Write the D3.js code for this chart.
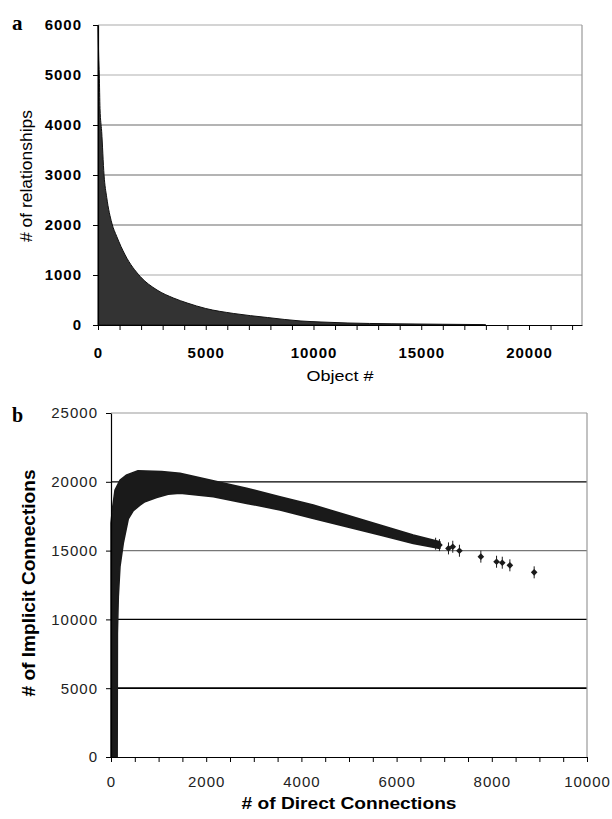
<!DOCTYPE html>
<html>
<head>
<meta charset="utf-8">
<script src="https://cdn.jsdelivr.net/npm/d3@7"></script>
<style>
    body { margin: 0; background: #fff; }
    svg { display: block; }
    .tickA text { font-family: "Liberation Sans", Arial, sans-serif; font-weight: bold; font-size: 15px; fill: #000; letter-spacing: 1px; }
    .tickB text { font-family: "Liberation Sans", Arial, sans-serif; font-size: 15px; fill: #222; letter-spacing: 1px; }
    .tickA line, .tickB line, .tickA path, .tickB path { stroke: #000; }
</style>
</head>
<body>
<div id="chart"></div>
<script>
// DATA - panel a (object # vs number of relationships, sorted)
const objectNo = [0, 30, 60, 93, 170, 280, 405, 640, 870, 1260, 1960, 2740, 3500, 4140, 5000, 6300, 7860, 9420, 10350, 11600, 13600, 16000, 17900, 18000];
const relCount = [6000, 5400, 5000, 4330, 3870, 3000, 2550, 2040, 1770, 1400, 970, 700, 540, 440, 330, 230, 150, 80, 60, 40, 25, 15, 8, 0];
const ticksA_y = [0, 1000, 2000, 3000, 4000, 5000, 6000];
const ticksA_x = d3.range(0, 22001, 1000);

// DATA - panel b (cloud envelope + isolated points)
const upperX = [0, 0, 35, 84, 190, 330, 567, 1065, 1450, 2150, 2850, 3550, 4250, 4950, 5650, 6350, 6910];
const upperY = [0, 17000, 18170, 19400, 20130, 20500, 20800, 20750, 20620, 20080, 19530, 18920, 18310, 17590, 16860, 16130, 15650];
const lowerX = [130, 135, 154, 189, 259, 364, 469, 609, 714, 959, 1200, 1450, 2150, 2850, 3550, 4250, 4950, 5650, 6350, 6910];
const lowerY = [0, 9000, 11650, 13830, 15550, 17300, 17900, 18300, 18550, 18850, 19100, 19160, 18920, 18430, 17950, 17340, 16740, 16130, 15520, 15160];
const pointX = [6820, 6900, 7090, 7180, 7320, 7770, 8100, 8220, 8380, 8890];
const pointY = [15500, 15400, 15160, 15280, 14990, 14560, 14190, 14120, 13930, 13420];
const ticksB_y = [0, 5000, 10000, 15000, 20000, 25000];
const ticksB_x = d3.range(0, 10001, 500);

const svg = d3.select("#chart")
    .append("svg")
    .attr("width", 612)
    .attr("height", 819);

// PANEL A
const xA = d3.scaleLinear().domain([0, 22460]).range([98, 582]);
const yA = d3.scaleLinear().domain([0, 6000]).range([325, 25]);
const gridColA = ["#000", "#aaa", "#6a6a6a", "#6a6a6a", "#6a6a6a", "#b0b0b0", "#aaa"];

svg.append("g")
    .selectAll("line")
    .data(ticksA_y.slice(1))
    .enter()
    .append("line")
    .attr("x1", xA(0)).attr("x2", xA.range()[1])
    .attr("y1", d => yA(d)).attr("y2", d => yA(d))
    .attr("stroke", (d, i) => gridColA[i + 1])
    .attr("stroke-width", 1.2);

svg.append("line")
    .attr("x1", xA.range()[1]).attr("x2", xA.range()[1])
    .attr("y1", yA(6000)).attr("y2", yA(0))
    .attr("stroke", "#999").attr("stroke-width", 1.2);

const areaA = d3.area()
    .x((d, i) => xA(objectNo[i]))
    .y0(yA(0))
    .y1(d => yA(d))
    .curve(d3.curveMonotoneX);

svg.append("path")
    .datum(relCount)
    .attr("d", areaA)
    .attr("fill", "#333")
    .attr("stroke", "#111")
    .attr("stroke-width", 1);

svg.append("g")
    .attr("class", "tickA")
    .attr("transform", `translate(0, ${yA(0)})`)
    .call(d3.axisBottom(xA).tickValues(ticksA_x).tickSize(5).tickSizeOuter(0).tickPadding(17)
        .tickFormat(d => d % 5000 === 0 ? d : ""))
    .call(g => g.select(".domain").attr("stroke-width", 1.2));

svg.append("g")
    .attr("class", "tickA")
    .attr("transform", `translate(${xA(0)}, 0)`)
    .call(d3.axisLeft(yA).tickValues(ticksA_y).tickSize(5).tickSizeOuter(0).tickPadding(11)
        .tickFormat(d3.format("d")))
    .call(g => g.select(".domain").attr("stroke-width", 1.2));

svg.append("text")
    .attr("x", 12).attr("y", 30)
    .style("font-family", "'Liberation Serif', 'Times New Roman', serif")
    .style("font-weight", "bold").style("font-size", "21px")
    .text("a");

svg.append("text")
    .attr("transform", "translate(32, 176) rotate(-90)")
    .attr("text-anchor", "middle")
    .attr("textLength", 132).attr("lengthAdjust", "spacingAndGlyphs")
    .style("font-family", "'Liberation Sans', Arial, sans-serif").style("font-size", "16px")
    .text("# of relationships");

svg.append("text")
    .attr("x", 340).attr("y", 381)
    .attr("text-anchor", "middle")
    .attr("textLength", 67).attr("lengthAdjust", "spacingAndGlyphs")
    .style("font-family", "'Liberation Sans', Arial, sans-serif").style("font-size", "15px")
    .text("Object #");

// PANEL B
const xB = d3.scaleLinear().domain([0, 10000]).range([111, 587]);
const yB = d3.scaleLinear().domain([0, 25000]).range([757, 413]);
const gridColB = { 5000: "#000", 10000: "#000", 15000: "#777", 20000: "#000", 25000: "#999" };

svg.append("g")
    .selectAll("line")
    .data(ticksB_y.slice(1))
    .enter()
    .append("line")
    .attr("x1", xB(0)).attr("x2", xB(10000))
    .attr("y1", d => yB(d)).attr("y2", d => yB(d))
    .attr("stroke", d => gridColB[d])
    .attr("stroke-width", d => d === 5000 ? 1.8 : 1.2);

svg.append("line")
    .attr("x1", xB(10000)).attr("x2", xB(10000))
    .attr("y1", yB(25000)).attr("y2", yB(0))
    .attr("stroke", "#999").attr("stroke-width", 1.2);

// cloud outline: upper edge left->right, lower edge right->left
const cloud = upperX.map((x, i) => [x, upperY[i]])
    .concat(lowerX.map((x, i) => [x, lowerY[i]]).reverse());

svg.append("path")
    .datum(cloud)
    .attr("d", d3.line().x(d => xB(d[0])).y(d => yB(d[1])).curve(d3.curveLinearClosed))
    .attr("fill", "#1a1a1a")
    .attr("stroke", "#1a1a1a")
    .attr("stroke-width", 1.5)
    .attr("stroke-linejoin", "round");

const pts = svg.append("g")
    .selectAll("g")
    .data(pointX.map((x, i) => [x, pointY[i]]))
    .enter()
    .append("g")
    .attr("transform", d => `translate(${xB(d[0])}, ${yB(d[1])})`);

pts.append("line")
    .attr("y1", -6).attr("y2", 6)
    .attr("stroke", "#1a1a1a").attr("stroke-width", 1);

pts.append("path")
    .attr("d", d3.symbol().type(d3.symbolSquare).size(22))
    .attr("transform", "rotate(45)")
    .attr("fill", "#1a1a1a");

svg.append("g")
    .attr("class", "tickB")
    .attr("transform", `translate(0, ${yB(0)})`)
    .call(d3.axisBottom(xB).tickValues(ticksB_x).tickSize(5).tickSizeOuter(0).tickPadding(14)
        .tickFormat(d => d % 2000 === 0 ? d : ""))
    .call(g => g.select(".domain").attr("stroke-width", 1.2));

svg.append("g")
    .attr("class", "tickB")
    .attr("transform", `translate(${xB(0)}, 0)`)
    .call(d3.axisLeft(yB).tickValues(ticksB_y).tickSize(5).tickSizeOuter(0).tickPadding(8)
        .tickFormat(d3.format("d")))
    .call(g => g.select(".domain").attr("stroke-width", 1.2));

svg.append("text")
    .attr("x", 12).attr("y", 422)
    .style("font-family", "'Liberation Serif', 'Times New Roman', serif")
    .style("font-weight", "bold").style("font-size", "20px")
    .text("b");

svg.append("text")
    .attr("transform", "translate(35, 583) rotate(-90)")
    .attr("text-anchor", "middle")
    .attr("textLength", 227).attr("lengthAdjust", "spacingAndGlyphs")
    .style("font-family", "'Liberation Sans', Arial, sans-serif")
    .style("font-weight", "bold").style("font-size", "18px")
    .text("# of Implicit Connections");

svg.append("text")
    .attr("x", 349).attr("y", 809)
    .attr("text-anchor", "middle")
    .attr("textLength", 215).attr("lengthAdjust", "spacingAndGlyphs")
    .style("font-family", "'Liberation Sans', Arial, sans-serif")
    .style("font-weight", "bold").style("font-size", "17px")
    .text("# of Direct Connections");
</script>
</body>
</html>
